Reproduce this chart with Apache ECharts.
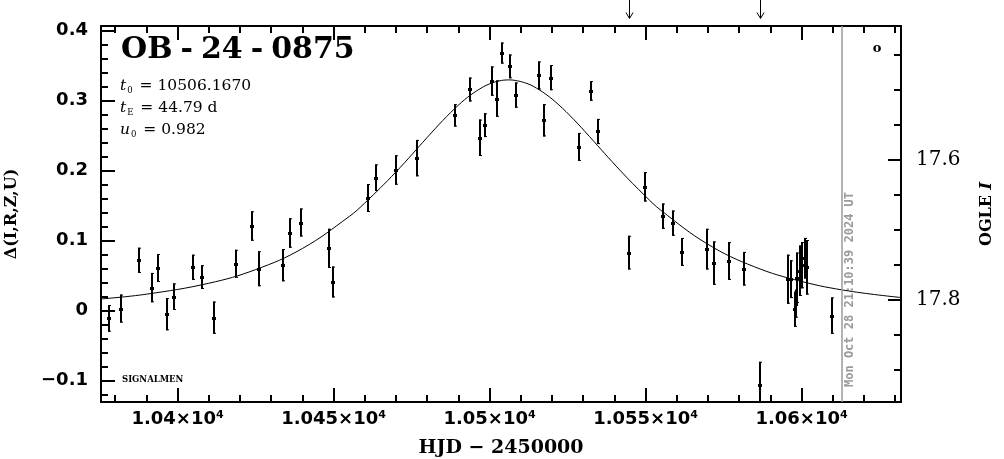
<!DOCTYPE html>
<html><head><meta charset="utf-8">
<script src="https://cdn.jsdelivr.net/npm/echarts@6/dist/echarts.min.js"></script>
<style>html,body{margin:0;padding:0;background:#fff}#c{width:1004px;height:459px}</style>
</head><body><div id="c"></div>
<script>
// ---- data ----
const hjd = [10377.9,10381.9,10387.8,10391.7,10393.8,10396.7,10398.9,10404.9,10407.8,10411.8,
  10418.7,10423.8,10426.0,10433.8,10435.9,10439.6,10448.6,10449.9,10460.9,10463.6,
  10470.0,10476.9,10488.8,10493.6,10496.8,10498.6,10500.7,10502.5,10503.9,10506.7,
  10508.5,10515.8,10517.6,10519.7,10528.6,10532.6,10534.9,10544.7,10549.8,10555.7,
  10558.9,10561.8,10569.7,10571.9,10576.8,10581.7,10586.7,10595.8,10596.6,10597.8,
  10598.2,10598.7,10599.5,10600.2,10601.0,10601.7,10609.7];
const delta = [-0.011,0.003,0.072,0.033,0.061,-0.005,0.020,0.062,0.048,-0.010,
  0.067,0.121,0.060,0.065,0.111,0.126,0.089,0.041,0.161,0.190,
  0.201,0.218,0.279,0.316,0.247,0.265,0.328,0.303,0.368,0.349,
  0.308,0.336,0.272,0.333,0.234,0.314,0.256,0.083,0.177,0.135,
  0.125,0.084,0.088,0.068,0.071,0.060,-0.106,0.045,0.045,0.002,
  0.010,0.047,0.057,0.065,0.075,0.062,-0.007];
const deltaErr = [0.019,0.020,0.018,0.021,0.020,0.023,0.019,0.018,0.017,0.023,
  0.020,0.021,0.025,0.023,0.021,0.020,0.028,0.022,0.020,0.019,
  0.021,0.026,0.016,0.017,0.026,0.017,0.021,0.026,0.015,0.017,
  0.018,0.020,0.023,0.018,0.020,0.014,0.018,0.024,0.021,0.018,
  0.018,0.020,0.029,0.031,0.027,0.024,0.033,0.035,0.027,0.025,
  0.020,0.036,0.036,0.033,0.029,0.039,0.026];
const modelHjd = [10375.5,10390,10410,10425,10440,10455,10460,10470,10480,10485,10490,10494,10498,
  10500,10503,10506.17,10509,10512,10514,10518,10522,10527,10532,10542,10550,10555,
  10570,10585,10600,10615,10632];
const modelDelta = [0.0168,0.0236,0.0392,0.0587,0.0888,0.1345,0.1538,0.1982,0.2474,0.2716,0.2935,0.3083,0.3198,
  0.3240,0.3282,0.3297,0.3283,0.3246,0.3206,0.3094,0.2949,0.2732,0.2490,0.1998,0.1635,0.1432,
  0.0949,0.0626,0.0418,0.0283,0.0188];
const xTickLabels = [10400,10450,10500,10550,10600];
const yTickLabels = [-0.1,0,0.1,0.2,0.3,0.4];
const magTickLabels = [17.6,17.8];
const arrowHjd = [10544.7,10586.8];
const dateLineHjd = 10612.9;
const dateLabel = 'Mon Oct 28 21:10:39 2024 UT';
const eventName = ['OB', '24', '0875'];
const paramLines = [['t','0','10506.1670'],['t','E','44.79 d'],['u','0','0.982']];
const markerO = [10624.2, 0.375];

// ---- axis ranges ----
const xMin = 10375.46, xMax = 10631.9;
const yMin = -0.1304, yMax = 0.4067;
const magZero = 17.8153; // mag = magZero - delta
const magMin = magZero - yMax, magMax = magZero - yMin;

function range(a, b, step){ const r=[]; for(let v=a; v<=b+1e-9; v+=step) r.push(+v.toFixed(4)); return r; }
const xMinor = range(10380, 10630, 10).filter(v => xTickLabels.indexOf(v) < 0);
const yMinor = range(-0.12, 0.40, 0.02).filter(v => yTickLabels.every(t => Math.abs(t - v) > 1e-6));
const magMinor = range(17.45, 17.9, 0.05).filter(v => magTickLabels.every(t => Math.abs(t - v) > 1e-6));

const K = '#000';
const tickFont = 'DejaVu Sans';
const serif = 'DejaVu Serif';

function xAx(pos, ticks, len, labels, line){
  return {type:'value', position:pos, min:xMin, max:xMax, scale:true,
    axisLine:{show:line, onZero:false, lineStyle:{color:K, width:2}},
    axisTick:{show:true, inside:true, length:len, customValues:ticks, lineStyle:{color:K, width:2}},
    axisLabel:{show:labels, customValues:ticks, margin:8, color:K,
      formatter: v => '{n|' + (+(v/1e4).toFixed(4)) + '×10}{s|4}',
      rich:{n:{fontFamily:tickFont, fontWeight:'bold', fontSize:18, color:K},
            s:{fontFamily:tickFont, fontWeight:'bold', fontSize:11, color:K, verticalAlign:'top', padding:[0,0,8,0]}}},
    splitLine:{show:false}};
}
function yAx(pos, ticks, len, labels, line){
  return {type:'value', position:pos, min:yMin, max:yMax, scale:true,
    axisLine:{show:line, onZero:false, lineStyle:{color:K, width:2}},
    axisTick:{show:true, inside:true, length:len, customValues:ticks, lineStyle:{color:K, width:2}},
    axisLabel:{show:labels, customValues:ticks, margin:13, color:K, fontFamily:tickFont, fontWeight:'bold', fontSize:18,
      formatter: v => Math.abs(v) < 1e-9 ? '0' : (v < 0 ? '−' + Math.abs(v).toFixed(1) : v.toFixed(1))},
    splitLine:{show:false}};
}
function magAx(ticks, len, labels, line){
  return {type:'value', position:'right', min:magMin, max:magMax, inverse:true, scale:true,
    axisLine:{show:line, onZero:false, lineStyle:{color:K, width:2}},
    axisTick:{show:true, inside:true, length:len, customValues:ticks, lineStyle:{color:K, width:2}},
    axisLabel:{show:labels, customValues:ticks, margin:15, color:K, fontFamily:serif, fontSize:20,
      formatter: v => v.toFixed(1)},
    splitLine:{show:false}};
}

const xAxes = [xAx('bottom', xTickLabels, 14, true, true), xAx('bottom', xMinor, 7, false, false),
               xAx('top', xTickLabels, 14, false, true), xAx('top', xMinor, 7, false, false)];
xAxes[0].name = 'HJD − 2450000';
xAxes[0].nameLocation = 'middle';
xAxes[0].nameGap = 37;
xAxes[0].nameTextStyle = {fontFamily:serif, fontWeight:'bold', fontSize:19, color:K};

const yAxes = [yAx('left', yTickLabels, 14, true, true), yAx('left', yMinor, 7, false, false),
               magAx(magTickLabels, 13, true, true), magAx(magMinor, 7, false, false)];
yAxes[0].name = 'Δ(I,R,Z,U)';
yAxes[0].nameLocation = 'middle';
yAxes[0].nameRotate = 90;
yAxes[0].nameGap = 81;
yAxes[0].nameTextStyle = {fontFamily:serif, fontWeight:'bold', fontSize:16, color:K};
yAxes[2].name = '{a|OGLE }{b|I}';
yAxes[2].nameLocation = 'middle';
yAxes[2].nameRotate = 90;
yAxes[2].nameGap = 78;
yAxes[2].nameTextStyle = {rich:{a:{fontFamily:serif, fontWeight:'bold', fontSize:16, color:K},
                                b:{fontFamily:serif, fontWeight:'bold', fontStyle:'italic', fontSize:16, color:K}}};

const points = hjd.map((t, i) => [t, delta[i], deltaErr[i]]);
const model = modelHjd.map((t, i) => [t, modelDelta[i]]);

const chart = echarts.init(document.getElementById('c'), null, {renderer:'canvas'});
chart.setOption({
  animation:false,
  backgroundColor:'#fff',
  grid:{left:101, right:103, top:26, bottom:57, containLabel:false, outerBoundsMode:'none'},
  xAxis:xAxes,
  yAxis:yAxes,
  series:[
    {type:'line', xAxisIndex:0, yAxisIndex:0, data:model, smooth:0.4, showSymbol:false, clip:true,
     lineStyle:{color:K, width:1}, silent:true, z:3,
     markLine:{silent:true, symbol:['none','none'], label:{show:false},
       lineStyle:{color:'#9a9a9a', width:1.5, type:'solid'}, data:[{xAxis:dateLineHjd}]}},
    {type:'custom', xAxisIndex:0, yAxisIndex:0, data:points, clip:true, z:4,
     renderItem:function(params, api){
       const t = api.value(0), d = api.value(1), e = api.value(2);
       const c = api.coord([t, d]);
       const hi = api.coord([t, d + e]);
       const lo = api.coord([t, d - e]);
       const cs = params.coordSys;
       const top = Math.max(hi[1], cs.y), bot = Math.min(lo[1], cs.y + cs.height);
       const x = Math.round(c[0]);
       const st = {stroke:K, lineWidth:2};
       return {type:'group', children:[
         {type:'line', shape:{x1:x, y1:top, x2:x, y2:bot}, style:st},
         {type:'line', shape:{x1:x-1, y1:top+0.5, x2:x+2, y2:top+0.5}, style:{stroke:K, lineWidth:1}},
         {type:'line', shape:{x1:x-1, y1:bot-0.5, x2:x+2, y2:bot-0.5}, style:{stroke:K, lineWidth:1}},
         {type:'rect', shape:{x:x-2, y:Math.round(c[1])-1, width:4, height:3}, style:{fill:K}}
       ]};
     }}
  ]
});

function px(t, d){ return chart.convertToPixel({xAxisIndex:0, yAxisIndex:0}, [t, d]); }
const gridBottom = 459 - 57;
const g = [];
// event name
g.push({type:'text', left:121, top:35, style:{
  text:'{a|' + eventName[0] + '}{h|-}{a|' + eventName[1] + '}{h|-}{a|' + eventName[2] + '}',
  rich:{a:{fontFamily:serif, fontWeight:'bold', fontSize:30, fill:K},
        h:{fontFamily:serif, fontWeight:'bold', fontSize:30, fill:K, padding:[0,8,0,8]}}}});
// parameters
paramLines.forEach((p, i) => {
  g.push({type:'text', left:120, top:78 + i*22, style:{
    text:'{i|' + p[0] + '}{s|' + p[1] + '}{n| = ' + p[2] + '}',
    rich:{i:{fontFamily:serif, fontStyle:'italic', fontSize:15.5, fill:K, lineHeight:19},
          s:{fontFamily:serif, fontSize:8.5, fill:K, verticalAlign:'bottom', lineHeight:13, padding:[0,2,0,1]},
          n:{fontFamily:serif, fontSize:15.5, fill:K, lineHeight:19}}}});
});
g.push({type:'text', left:122, top:375, style:{text:'SIGNALMEN', fontFamily:serif, fontWeight:'bold', fontSize:8.5, fill:K}});
// date label along the date line
const lx = px(dateLineHjd, 0)[0];
g.push({type:'text', x:lx + 8, y:gridBottom - 15, rotation:Math.PI/2, style:{
  text:dateLabel, fontFamily:'DejaVu Sans Mono', fontWeight:'bold', fontSize:12, fill:'#9a9a9a',
  align:'left', verticalAlign:'middle'}});
// small circle glyph
const po = px(markerO[0], markerO[1]);
g.push({type:'text', x:po[0], y:po[1], style:{text:'o', fontFamily:serif, fontWeight:'bold', fontSize:13, fill:K, align:'center', verticalAlign:'middle'}});
// arrows above the frame
arrowHjd.forEach(t => {
  const ax = Math.round(px(t, 0)[0]) + 0.5;
  g.push({type:'polyline', shape:{points:[[ax,0],[ax,18]]}, style:{stroke:K, lineWidth:1, fill:null}});
  g.push({type:'polyline', shape:{points:[[ax-3.5,12.5],[ax,18.5],[ax+3.5,12.5]]}, style:{stroke:K, lineWidth:1, fill:null}});
});
chart.setOption({graphic:g});
</script></body></html>
